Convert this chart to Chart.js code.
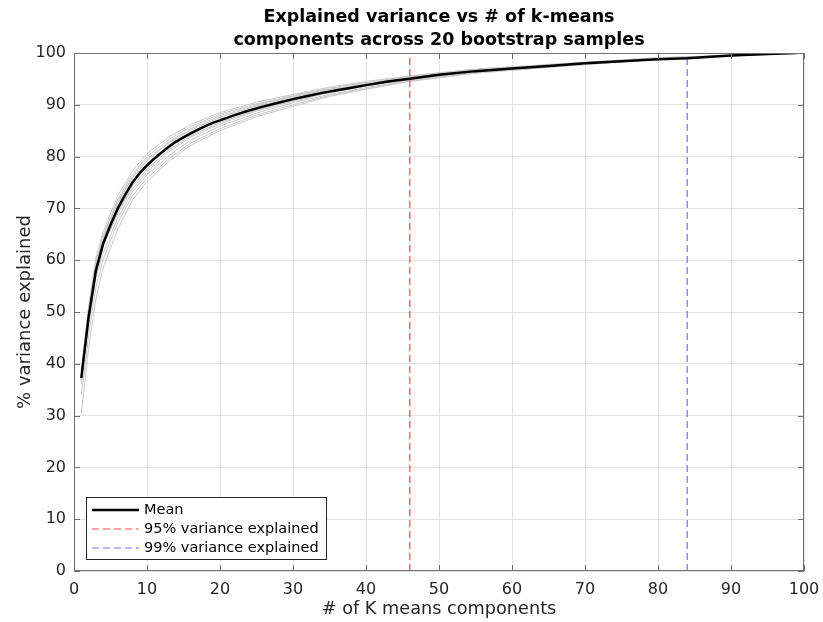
<!DOCTYPE html>
<html>
<head>
<meta charset="utf-8">
<script src="https://cdn.jsdelivr.net/npm/chart.js@4.4.0/dist/chart.umd.min.js"></script>
<style>
  html, body { margin: 0; padding: 0; background: #fff; }
  canvas { display: block; }
</style>
</head>
<body>
<canvas id="chart" width="823" height="622"></canvas>
<script>
const titleLines = ['Explained variance vs # of k-means', 'components across 20 bootstrap samples'];
const xTitle = '# of K means components';
const yTitle = '% variance explained';
const legendLabels = ['Mean', '95% variance explained', '99% variance explained'];

// mean curve over the bootstrap runs
const meanK = [1, 2, 3, 4, 5, 6, 7, 8, 9, 10, 11, 12, 13, 14, 15, 16, 17, 18, 19, 20,
  22, 24, 26, 28, 30, 32, 34, 36, 38, 40, 43, 46, 50, 55, 60, 65, 70, 75, 80, 84, 90, 95, 99];
const meanPct = [37.3, 49.0, 58.0, 63.2, 66.8, 70.0, 72.6, 75.0, 76.8, 78.3, 79.6, 80.8, 81.9, 82.9, 83.7, 84.5, 85.2, 85.9, 86.5, 87.0,
  88.0, 88.9, 89.7, 90.4, 91.1, 91.7, 92.3, 92.8, 93.3, 93.8, 94.5, 95.05, 95.8, 96.5, 97.0, 97.5, 98.0, 98.4, 98.8, 99.0, 99.5, 99.8, 100.0];

// individual bootstrap runs
const sampleK = [1, 2, 3, 4, 6, 8, 10, 13, 16, 20, 25, 30, 35, 40, 46, 55, 65, 80, 99];
const runA = [38.5, 51.0, 60.5, 65.5, 72.5, 77.2, 80.6, 83.8, 86.2, 88.5, 90.5, 92.0, 93.4, 94.5, 95.6, 96.9, 97.8, 99.1, 100];
const runB = [38.0, 50.5, 59.8, 64.8, 71.8, 76.6, 80.0, 83.3, 85.8, 88.2, 90.2, 91.8, 93.2, 94.3, 95.5, 96.8, 97.7, 99.0, 100];
const runC = [37.8, 49.8, 58.9, 64.2, 71.0, 75.9, 79.2, 82.7, 85.1, 87.6, 89.8, 91.5, 92.9, 94.0, 95.3, 96.6, 97.6, 98.9, 100];
const runD = [37.0, 48.5, 57.6, 62.8, 69.4, 74.3, 77.6, 81.3, 84.0, 86.6, 89.0, 90.8, 92.4, 93.6, 95.0, 96.4, 97.4, 98.9, 100];
const runE = [36.0, 47.5, 56.5, 61.5, 68.2, 73.2, 76.5, 80.2, 83.2, 85.9, 88.4, 90.4, 92.0, 93.3, 94.8, 96.3, 97.3, 98.8, 100];
const runF = [34.0, 45.5, 54.8, 60.2, 67.2, 72.4, 75.8, 79.6, 82.6, 85.4, 88.0, 90.0, 91.8, 93.1, 94.6, 96.2, 97.3, 98.8, 100];
const runG = [30.5, 43.0, 52.5, 58.6, 66.0, 71.6, 75.2, 79.1, 82.2, 85.0, 87.7, 89.7, 91.6, 93.0, 94.5, 96.1, 97.2, 98.8, 100];
const runH = [36.5, 48.8, 58.2, 63.8, 70.6, 75.2, 78.7, 82.3, 84.8, 87.2, 89.6, 91.3, 92.8, 93.9, 95.2, 96.6, 97.5, 98.9, 100];
const runI = [37.5, 49.6, 58.6, 63.0, 69.0, 73.8, 77.0, 80.9, 83.8, 86.3, 88.8, 90.7, 92.3, 93.6, 94.9, 96.4, 97.4, 98.9, 100];
const runJ = [38.2, 50.2, 59.3, 64.5, 71.3, 76.2, 79.5, 82.9, 85.4, 87.9, 90.0, 91.7, 93.0, 94.1, 95.4, 96.7, 97.6, 99.0, 100];
const runs = [runA, runB, runC, runD, runE, runF, runG, runH, runI, runJ];

// thresholds (number of components)
const cut95 = 46;
const cut99 = 84;

const FONT = 'DejaVu Sans';
const INK = '#262626';
const AXIS = '#6e6e6e';
const RED = '#ff4848';
const BLUE = '#6e6eff';

const pts = (xs, ys) => xs.map((x, i) => ({ x, y: ys[i] }));
const vline = x => [{ x, y: 0 }, { x, y: 100 }];

// title, box, inward ticks and legend
const decorations = {
  id: 'decorations',
  afterDraw(chart) {
    const { ctx, chartArea: a, scales } = chart;
    ctx.save();

    ctx.fillStyle = '#000';
    ctx.font = `bold 17.5px "${FONT}"`;
    ctx.textAlign = 'center';
    ctx.textBaseline = 'middle';
    const cx = (a.left + a.right) / 2;
    ctx.fillText(titleLines[0], cx, 17);
    ctx.fillText(titleLines[1], cx, 40);

    ctx.strokeStyle = AXIS;
    ctx.lineWidth = 1;
    ctx.strokeRect(a.left + 0.5, a.top + 0.5, a.right - a.left - 1, a.bottom - a.top - 1);

    const tl = 6;
    ctx.beginPath();
    scales.x.ticks.forEach(t => {
      const px = Math.round(scales.x.getPixelForValue(t.value)) + 0.5;
      ctx.moveTo(px, a.bottom); ctx.lineTo(px, a.bottom - tl);
      ctx.moveTo(px, a.top); ctx.lineTo(px, a.top + tl);
    });
    scales.y.ticks.forEach(t => {
      const py = Math.round(scales.y.getPixelForValue(t.value)) + 0.5;
      ctx.moveTo(a.left, py); ctx.lineTo(a.left + tl, py);
      ctx.moveTo(a.right, py); ctx.lineTo(a.right - tl, py);
    });
    ctx.stroke();

    // legend box in the lower left corner
    const bx = 86.5, by = 497.5, bw = 240, bh = 62;
    ctx.fillStyle = '#fff';
    ctx.fillRect(bx, by, bw, bh);
    ctx.strokeStyle = INK;
    ctx.strokeRect(bx, by, bw, bh);
    const rows = [
      { color: '#000', width: 2.5, dash: [] },
      { color: RED, width: 1, dash: [7, 4] },
      { color: BLUE, width: 1, dash: [7, 4] }
    ];
    ctx.font = `14.5px "${FONT}"`;
    ctx.textAlign = 'left';
    rows.forEach((r, i) => {
      const y = 510 + i * 19;
      ctx.beginPath();
      ctx.setLineDash(r.dash);
      ctx.strokeStyle = r.color;
      ctx.lineWidth = r.width;
      ctx.moveTo(92, y); ctx.lineTo(139, y);
      ctx.stroke();
      ctx.setLineDash([]);
      ctx.fillStyle = '#000';
      ctx.fillText(legendLabels[i], 144, y);
    });
    ctx.restore();
  }
};

new Chart(document.getElementById('chart'), {
  type: 'line',
  data: {
    datasets: [
      { label: legendLabels[0], data: pts(meanK, meanPct), borderColor: '#000', borderWidth: 2.5 },
      { label: legendLabels[1], data: vline(cut95), borderColor: RED, borderWidth: 1.2, borderDash: [7, 4] },
      { label: legendLabels[2], data: vline(cut99), borderColor: BLUE, borderWidth: 1.2, borderDash: [7, 4] },
      ...runs.map((r, i) => ({ label: 'run ' + (i + 1), data: pts(sampleK, r), borderColor: '#c8c8c8', borderWidth: 1 }))
    ]
  },
  options: {
    responsive: false,
    animation: false,
    devicePixelRatio: 1,
    elements: { point: { radius: 0 }, line: { tension: 0 } },
    layout: { padding: { top: 53, right: 19, bottom: 0, left: 0 } },
    plugins: { legend: { display: false }, tooltip: { enabled: false } },
    scales: {
      x: {
        type: 'linear', min: 0, max: 100,
        ticks: { stepSize: 10, color: INK, font: { family: FONT, size: 16 }, padding: 9, maxRotation: 0 },
        grid: { color: '#e3e3e3', drawTicks: false },
        border: { display: false },
        title: { display: true, text: xTitle, color: INK, font: { family: FONT, size: 17.7 }, padding: { top: 0, bottom: 2 } },
        afterFit: s => { s.height = 51; s.paddingLeft = 0; s.paddingRight = 0; }
      },
      y: {
        min: 0, max: 100,
        ticks: { stepSize: 10, color: INK, font: { family: FONT, size: 16 }, padding: 8 },
        grid: { color: '#e3e3e3', drawTicks: false },
        border: { display: false },
        title: { display: true, text: yTitle, color: INK, font: { family: FONT, size: 18 }, padding: { top: 15, bottom: 0 } },
        afterFit: s => { s.width = 74; }
      }
    }
  },
  plugins: [decorations]
});
</script>
</body>
</html>
